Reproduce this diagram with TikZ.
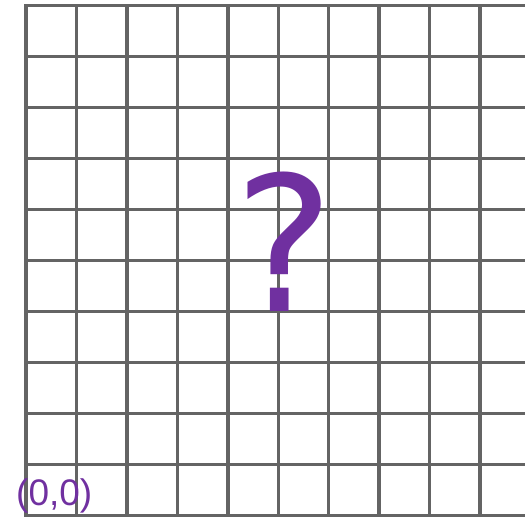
\documentclass[tikz,border=0pt]{standalone}
\usepackage{fontspec}
\setmainfont{Liberation Sans}
\newfontfamily\qfont{DejaVu Sans}
\definecolor{gridgray}{HTML}{646464}
\definecolor{qpurple}{HTML}{7030A0}
\tikzset{
  gridline/.style={draw=gridgray, line width=3.5pt, line cap=rect},
  bigq/.style={text=qpurple, inner sep=0pt, anchor=base, font=\qfont\fontsize{188}{188}\selectfont},
  origlabel/.style={text=qpurple, inner sep=0pt, anchor=base west, font=\fontsize{37}{37}\selectfont}
}
\begin{document}
\begin{tikzpicture}[x=1pt,y=1pt]
\useasboundingbox (0,0) rectangle (525,517);
\begin{scope}
\clip (0,0) rectangle (525,517);
\foreach \i in {0,...,10} {
  \draw[gridline] ({26+50.45*\i},1.5) -- ({26+50.45*\i},511.5);
}
\foreach \j in {0,...,10} {
  \draw[gridline] (26,{1.5+51*\j}) -- (540,{1.5+51*\j});
}
\end{scope}
\node[bigq] (q) at (284.5,205) {?};
\node[origlabel] (o) at (16,11.5) {(0,0)};
\end{tikzpicture}
\end{document}
